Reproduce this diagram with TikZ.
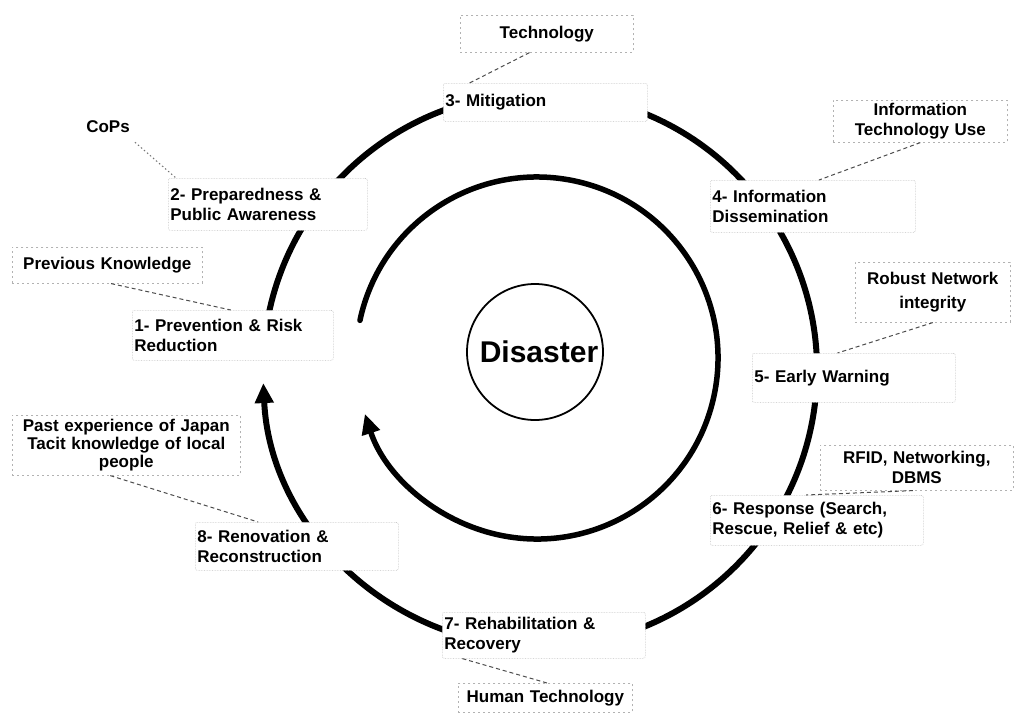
\documentclass[tikz,border=0pt]{standalone}
\usepackage{fontspec}
\setmainfont{Liberation Sans}
\usetikzlibrary{arrows.meta,calc}
\begin{document}
\begin{tikzpicture}[x=1pt,y=1pt,
  stagebox/.style={draw=gray!50, densely dotted, line width=0.6pt, fill=white,
    rounded corners=2pt, anchor=north west, inner xsep=2pt, inner ysep=0pt,
    align=left, font=\fontsize{17}{20}\selectfont\bfseries},
  notebox/.style={draw=gray!60, dash pattern=on 2pt off 3pt, line width=0.6pt,
    fill=white, anchor=north west, inner xsep=2pt, inner ysep=0pt, align=center,
    font=\fontsize{17}{20}\selectfont\bfseries},
  link/.style={draw=black!70, dash pattern=on 4pt off 3pt, line width=1pt},
  ring/.style={line width=6pt, line cap=round},
  tip/.style={-{Triangle[length=20pt,width=18pt]}},
]
\useasboundingbox (0,0) rectangle (1014,-713);
\fill[white] (0,0) rectangle (1014,-713);

\coordinate (oc) at (540,-370);
\coordinate (ic) at (537,-358);

% outer cycle ring
\draw[ring, tip] (oc) ++(172:277) arc[start angle=172, end angle=-177.3, radius=277];
% inner ring
\draw[ring, line width=5.5pt, tip] (ic) ++(168:181) arc[start angle=168, end angle=-162, radius=181];

% centre
\node[circle, draw, line width=1.8pt, minimum size=136pt, inner sep=0pt,
  font=\fontsize{30}{30}\selectfont\bfseries] (dis) at (535,-352) {\hspace*{8pt}Disaster};

% stages
\node[stagebox, text width=197pt, minimum height=50pt] (s1) at (132,-310) {1- Prevention \& Risk\\Reduction};
\node[stagebox, text width=195pt, minimum height=52pt] (s2) at (168,-178) {2- Preparedness \&\\Public Awareness};
\node[stagebox, text width=200pt, minimum height=38pt] (s3) at (443,-83) {3- Mitigation};
\node[stagebox, text width=201pt, minimum height=52pt] (s4) at (710,-180) {4- Information\\Dissemination};
\node[stagebox, text width=199pt, minimum height=49pt] (s5) at (752,-353) {5- Early Warning};
\node[stagebox, text width=209pt, minimum height=50pt] (s6) at (710,-495) {6- Response (Search,\\Rescue, Relief \& etc)};
\node[stagebox, text width=199pt, minimum height=46pt] (s7) at (442,-612) {7- Rehabilitation \&\\Recovery};
\node[stagebox, text width=199pt, minimum height=48pt] (s8) at (195,-522) {8- Renovation \&\\Reconstruction};

% notes
\node[notebox, text width=169pt, minimum height=37pt] (tech) at (460,-15) {Technology};
\node[font=\fontsize{17}{20}\selectfont\bfseries, inner sep=1pt] (cops) at (108,-127) {CoPs};
\node[notebox, text width=170pt, minimum height=42pt] (itu) at (833,-100) {Information\\Technology Use};
\node[notebox, text width=186pt, minimum height=36pt] (prev) at (12,-247) {Previous Knowledge};
\node[notebox, text width=151pt, minimum height=60pt] (rob) at (855,-262) {Robust Network\\[4pt]integrity};
\node[notebox, text width=224pt, minimum height=60pt,
  font=\fontsize{17}{18}\selectfont\bfseries] (past) at (12,-415) {Past experience of Japan\\Tacit knowledge of local\\people};
\node[notebox, text width=189pt, minimum height=45pt] (rfid) at (820,-445) {RFID, Networking,\\DBMS};
\node[notebox, text width=170pt, minimum height=29pt] (hum) at (458,-683) {Human Technology};

% connectors
\draw[link] ($(tech.south west)!0.4!(tech.south east)$) -- ($(s3.north west)!0.13!(s3.north east)$);
\draw[link, dash pattern=on 1.5pt off 2.5pt, draw=black!55] ([shift={(4,-8)}]cops.south east) -- ($(s2.north west)!0.04!(s2.north east)$);
\draw[link] ($(itu.south west)!0.5!(itu.south east)$) -- ($(s4.north west)!0.53!(s4.north east)$);
\draw[link] ($(prev.south west)!0.52!(prev.south east)$) -- ($(s1.north west)!0.49!(s1.north east)$);
\draw[link] ($(rob.south west)!0.5!(rob.south east)$) -- ($(s5.north west)!0.42!(s5.north east)$);
\draw[link] ($(past.south west)!0.43!(past.south east)$) -- ($(s8.north west)!0.31!(s8.north east)$);
\draw[link] ($(rfid.south west)!0.48!(rfid.south east)$) -- ($(s6.north west)!0.45!(s6.north east)$);
\draw[link] ($(s7.south west)!0.1!(s7.south east)$) -- ($(hum.north west)!0.51!(hum.north east)$);
\end{tikzpicture}
\end{document}
